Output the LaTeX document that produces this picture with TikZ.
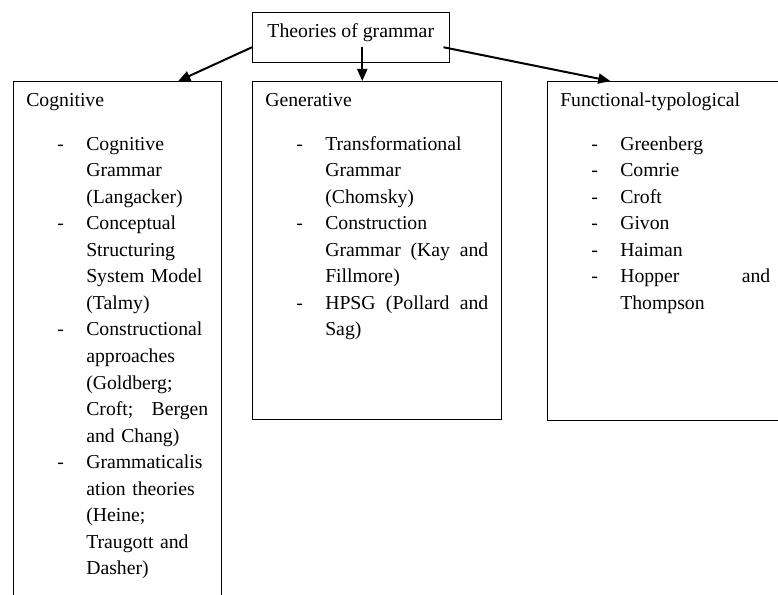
\documentclass[tikz,border=0pt]{standalone}
\usepackage{fontspec}
\setmainfont{Liberation Serif}
\usetikzlibrary{arrows.meta, positioning}

\newcommand{\theoryitem}[1]{\par\noindent\hangindent=45pt\hangafter=1
  \hspace*{23.25pt}\makebox[21.75pt][l]{-}#1\par}

\begin{document}
\begin{tikzpicture}[
      x=0.75pt, y=-0.75pt,
      font=\fontsize{14.8}{19.9}\selectfont,
      heading/.style={draw, anchor=north west, inner ysep=0pt,
        minimum width=147.75pt, text height=18.75pt, text depth=18.75pt},
      panel/.style={draw, anchor=north west, inner xsep=9.75pt, inner ysep=0pt,
        text height=18.75pt},
      arrow/.style={-{Triangle[length=9pt, width=7.5pt]}, line width=1.5pt}
    ]
    \useasboundingbox (0,0) rectangle (778,595);
    \clip (0,0) rectangle (778,595);

    \node[heading] at (252,12) (theories) {Theories of grammar};
    \node[panel, text width=136.5pt, text depth=378pt] at (13,81) (cognitive)
      {Cognitive\par\vspace{13.1pt}
       \theoryitem{Cognitive\newline Grammar\newline (Langacker)}
       \theoryitem{Conceptual\newline Structuring\newline System Model\newline (Talmy)}
       \theoryitem{Constructional\newline approaches\newline (Goldberg;\newline
         Croft;\hfill Bergen\newline and Chang)}
       \theoryitem{Grammaticalis\newline ation theories\newline (Heine;\newline
         Traugott and\newline Dasher)}};
    \node[panel, text width=167.25pt, text depth=234.75pt] at (252,81) (generative)
      {Generative\par\vspace{13.1pt}
       \theoryitem{Transformational\newline Grammar\newline (Chomsky)}
       \theoryitem{Construction\newline Grammar\hfill (Kay\hfill and\newline Fillmore)}
       \theoryitem{HPSG\hfill (Pollard\hfill and\newline Sag)}};
    \node[panel, text width=157.5pt, text depth=235.5pt] at (547,81) (functional)
      {Functional-typological\par\vspace{13.1pt}
       \theoryitem{Greenberg}
       \theoryitem{Comrie}
       \theoryitem{Croft}
       \theoryitem{Givon}
       \theoryitem{Haiman}
       \theoryitem{Hopper\hfill and\newline Thompson}};

    \draw[arrow] ([yshift=-7.5pt]theories.west) -- ([xshift=45.75pt]cognitive.north);
    \draw[arrow] ([xshift=8.625pt, yshift=-7.5pt]theories.center) --
      ([xshift=-10.875pt]generative.north);
    \draw[arrow] ([xshift=-4.5pt, yshift=-7.5pt]theories.east) --
      ([xshift=-41.25pt]functional.north);
  \end{tikzpicture}
\end{document}
